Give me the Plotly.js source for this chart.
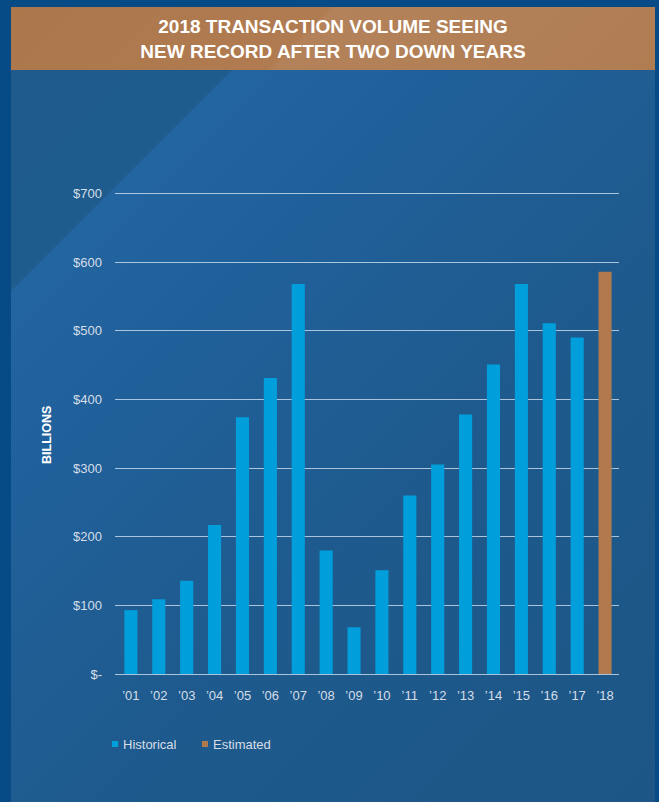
<!DOCTYPE html>
<html>
<head>
<meta charset="utf-8">
<script src="https://cdn.plot.ly/plotly-3.0.1.min.js"></script>
<style>
  html, body { margin: 0; padding: 0; }
  body { width: 659px; height: 802px; background: #064a86; position: relative; overflow: hidden; }
  #panel { position: absolute; left: 11px; top: 7px; width: 644px; height: 795px;
    background: linear-gradient(135deg, #1e5a8b 0%, #1f5c8e 19.6%, #2365a0 19.9%, #20609a 35%, #1e5a8d 60%, #1d5686 100%); }
  #banner { position: absolute; left: 11px; top: 7px; width: 644px; height: 63px;
    background: linear-gradient(135deg, #ad774c 0%, #b07b50 45%, #b4825a 46%, #b07d53 100%); }
  #chart { position: absolute; left: 0; top: 0; width: 659px; height: 802px; }
</style>
</head>
<body>
<div id="panel"></div>
<div id="banner"></div>
<div id="chart"></div>
<script>
// ---- data ----
const years = ['2001','2002','2003','2004','2005','2006','2007','2008','2009','2010','2011','2012','2013','2014','2015','2016','2017','2018'];
const yearLabels = ['\u201901','\u201902','\u201903','\u201904','\u201905','\u201906','\u201907','\u201908','\u201909','\u201910','\u201911','\u201912','\u201913','\u201914','\u201915','\u201916','\u201917','\u201918'];
const historical = [93, 109, 136, 217, 374, 431, 568, 180, 68, 151, 260, 305, 378, 451, 568, 511, 490, null];
const estimated = [null, null, null, null, null, null, null, null, null, null, null, null, null, null, null, null, null, 586];
const yTickVals = [0, 100, 200, 300, 400, 500, 600, 700];
const yTickText = ['$-', '$100', '$200', '$300', '$400', '$500', '$600', '$700'];
const seriesNames = ['Historical', 'Estimated'];
const titleText = '2018 TRANSACTION VOLUME SEEING<br>NEW RECORD AFTER TWO DOWN YEARS';
const yTitle = 'BILLIONS';

// ---- style ----
const blue = '#009fdc';
const copper = '#b07a4e';
const tickColor = '#d6dee8';
const gridColor = 'rgba(205,222,240,0.8)';
const font = 'Liberation Sans, Arial, sans-serif';

// plot area in pixels: x 115..619, y 190..674 (y range 0..705 so the $700 line is drawn)
const L = 115, R = 619, T = 190, B = 674;
const px = x => (x - L) / (R - L);
const py = y => (B - y) / (B - T);

const traces = [
  { type: 'bar', x: years, y: historical, name: seriesNames[0], marker: { color: blue }, showlegend: false, hoverinfo: 'x+y' },
  { type: 'bar', x: years, y: estimated, name: seriesNames[1], marker: { color: copper }, showlegend: false, hoverinfo: 'x+y' }
];

const layout = {
  width: 659, height: 802,
  margin: { l: L, r: 659 - R, t: T, b: 802 - B, pad: 0 },
  paper_bgcolor: 'rgba(0,0,0,0)',
  plot_bgcolor: 'rgba(0,0,0,0)',
  barmode: 'overlay',
  bargap: 0.53,
  title: {
    text: '<b>' + titleText + '</b>',
    font: { family: font, size: 19, color: '#ffffff' },
    x: 333 / 659, xanchor: 'center', xref: 'container',
    y: 1 - 33 / 802, yanchor: 'middle', yref: 'container'
  },
  xaxis: {
    type: 'category',
    range: [-0.57, 17.5],
    tickvals: years, ticktext: yearLabels,
    tickfont: { family: font, size: 13, color: tickColor },
    showgrid: false, zeroline: false, showline: false,
    ticks: '', ticklabelstandoff: 12, fixedrange: true
  },
  yaxis: {
    range: [0, 705],
    tickvals: yTickVals, ticktext: yTickText,
    tickfont: { family: font, size: 13, color: tickColor },
    showgrid: true, gridcolor: gridColor, gridwidth: 1,
    zeroline: true, zerolinecolor: gridColor, zerolinewidth: 1,
    showline: false, ticks: '', ticklabelstandoff: 12, fixedrange: true
  },
  shapes: [
    { type: 'rect', xref: 'paper', yref: 'paper', x0: px(112), x1: px(118), y0: py(747), y1: py(741), fillcolor: blue, line: { width: 0 } },
    { type: 'rect', xref: 'paper', yref: 'paper', x0: px(202), x1: px(208), y0: py(747), y1: py(741), fillcolor: copper, line: { width: 0 } }
  ],
  annotations: [
    { xref: 'paper', yref: 'paper', x: px(47), y: py(435), text: '<b>' + yTitle + '</b>', textangle: -90,
      showarrow: false, xanchor: 'center', yanchor: 'middle', font: { family: font, size: 12.5, color: '#ffffff' } },
    { xref: 'paper', yref: 'paper', x: px(121), y: py(744), text: seriesNames[0], showarrow: false,
      xanchor: 'left', yanchor: 'middle', font: { family: font, size: 13, color: tickColor } },
    { xref: 'paper', yref: 'paper', x: px(211), y: py(744), text: seriesNames[1], showarrow: false,
      xanchor: 'left', yanchor: 'middle', font: { family: font, size: 13, color: tickColor } }
  ]
};

Plotly.newPlot('chart', traces, layout, { displayModeBar: false, staticPlot: true });
</script>
</body>
</html>
